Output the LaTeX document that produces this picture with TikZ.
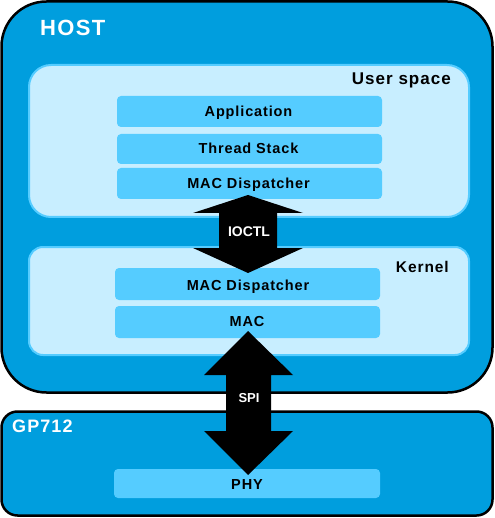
\documentclass[tikz,border=0pt]{standalone}
\usepackage{fontspec}
\setmainfont{Liberation Sans}
\newfontfamily\spaced[LetterSpace=6]{Liberation Sans}
\definecolor{hostblue}{RGB}{0,158,222}
\definecolor{paleblue}{RGB}{200,238,255}
\definecolor{midblue}{RGB}{85,204,255}
\begin{document}
\begin{tikzpicture}[x=1pt,y=-1pt,
  frame/.style={draw=black,line width=2.5pt,fill=hostblue},
  layer/.style={draw=midblue,line width=2pt,fill=paleblue,rounded corners=22pt},
  block/.style={fill=midblue,rounded corners=4pt},
  blocktext/.style={anchor=base,inner sep=0pt,font=\spaced\bfseries\fontsize{14.5}{16}\selectfont,text=black},
  bigarrow/.style={fill=black},
  whitelbl/.style={text=white,inner sep=0pt}]
\useasboundingbox (0,0) rectangle (494,518);
% HOST frame
\path[frame,rounded corners=45pt] (1.5,1.5) rectangle (492.5,392.5);
\node[whitelbl,font=\spaced\bfseries\fontsize{22}{24}\selectfont,anchor=base west] (host) at (40,36) {HOST};
% GP712 frame
\path[frame,rounded corners=16pt] (1.5,411.5) rectangle (492.5,515.5);
\node[whitelbl,font=\spaced\bfseries\fontsize{18}{20}\selectfont,anchor=base west] (gp) at (12,432) {GP712};
% User space
\path[layer] (29,65) rectangle (469,217);
\node[anchor=base east,inner sep=0pt,font=\spaced\bfseries\fontsize{17}{19}\selectfont] (us) at (451,84.3) {User space};
% Kernel
\path[layer,rounded corners=14pt] (29,247) rectangle (469,355);
\node[anchor=base east,inner sep=0pt,font=\spaced\bfseries\fontsize{15.5}{18}\selectfont] (kern) at (449,272.7) {Kernel};
% Blocks
\path[block] (117,96) rectangle (382,127);
\node[blocktext] (app) at (248.5,116.7) {Application};
\path[block] (117,134) rectangle (382,164);
\node[blocktext] (ts) at (248.5,153.3) {Thread Stack};
\path[block] (117,168) rectangle (382,199);
\node[blocktext] (md1) at (248.5,188.3) {MAC Dispatcher};
\path[block] (115,268) rectangle (380,300);
\node[blocktext] (md2) at (248,290) {MAC Dispatcher};
\path[block] (115,306) rectangle (380,338);
\node[blocktext] (mac) at (247,326.7) {MAC};
\path[block] (114,469) rectangle (380,498);
\node[blocktext] (phy) at (247,489) {PHY};
% IOCTL arrow
\path[bigarrow] (248,195) -- (303,213) -- (277,213) -- (277,248) -- (303,248) -- (248,273)
  -- (193,248) -- (219,248) -- (219,213) -- (193,213) -- cycle;
\node[whitelbl,anchor=base,font=\bfseries\fontsize{14}{16}\selectfont] (ioctl) at (249,236.7) {IOCTL};
% SPI arrow
\path[bigarrow] (248,331) -- (293,375) -- (271,375) -- (271,431) -- (293,431) -- (248,475)
  -- (204,431) -- (226,431) -- (226,375) -- (204,375) -- cycle;
\node[whitelbl,anchor=base,font=\bfseries\fontsize{13}{15}\selectfont] (spi) at (249,402) {SPI};
\end{tikzpicture}
\end{document}
